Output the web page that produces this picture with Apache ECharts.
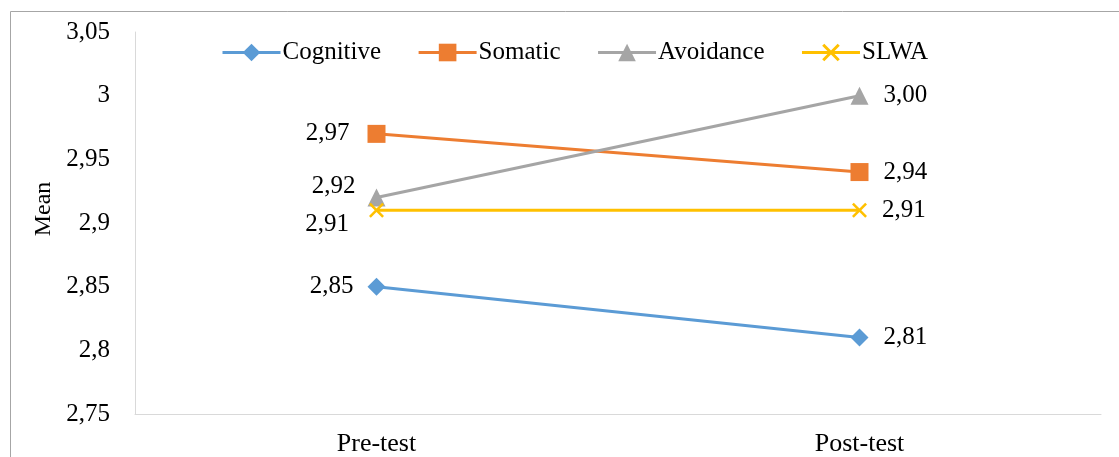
<!DOCTYPE html>
<html>
<head>
<meta charset="utf-8">
<script src="https://cdn.jsdelivr.net/npm/echarts@6/dist/echarts.min.js"></script>
<style>
  html, body { margin: 0; padding: 0; background: #fff; }
  #chart { width: 1119px; height: 457px; }
</style>
</head>
<body>
<div id="chart"></div>
<script>
const categories = ['Pre-test', 'Post-test'];
const cognitive = [2.85, 2.81];
const somatic = [2.97, 2.94];
const avoidance = [2.92, 3.00];
const slwa = [2.91, 2.91];

const FONT = '"Liberation Serif", "Times New Roman", serif';
const xMark = 'path://M0,1.2L1.2,0L5,3.8L8.8,0L10,1.2L6.2,5L10,8.8L8.8,10L5,6.2L1.2,10L0,8.8L3.8,5Z';

const comma = v => v.toFixed(2).replace('.', ',');

// label placement per point: pre-test left, post-test right
function withLabels(values, preOffset) {
  return values.map((v, i) => ({
    value: v,
    label: i === 0
      ? { position: 'left', distance: 14, offset: preOffset || [0, 0] }
      : { position: 'right', distance: 15 }
  }));
}

function line(name, color, values, symbol, size, preOffset) {
  return {
    name: name,
    type: 'line',
    data: withLabels(values, preOffset),
    symbol: symbol,
    symbolSize: size,
    lineStyle: { color: color, width: 3 },
    itemStyle: { color: color },
    label: {
      show: true,
      color: '#000',
      fontFamily: FONT,
      fontSize: 25,
      formatter: p => comma(p.value)
    },
    z: 3
  };
}

const chart = echarts.init(document.getElementById('chart'));
chart.setOption({
  animation: false,
  textStyle: { fontFamily: FONT },
  graphic: [{
    type: 'rect',
    shape: { x: 10.5, y: 11.5, width: 1200, height: 470 },
    style: { fill: 'none', stroke: '#a6a6a6', lineWidth: 1 },
    silent: true
  }],
  legend: {
    left: 216,
    top: 35,
    itemWidth: 58,
    itemHeight: 22,
    itemGap: 36,
    lineStyle: { width: 3 },
    textStyle: { fontFamily: FONT, fontSize: 25, color: '#000', padding: [0, 0, 0, -3] },
    data: ['Cognitive', 'Somatic', 'Avoidance', 'SLWA']
  },
  grid: { left: 135, right: 18, top: 32, bottom: 43 },
  xAxis: {
    type: 'category',
    data: categories,
    boundaryGap: true,
    axisLine: { lineStyle: { color: '#d9d9d9', width: 1 } },
    axisTick: { show: false },
    axisLabel: { color: '#000', fontFamily: FONT, fontSize: 26, margin: 17 }
  },
  yAxis: {
    type: 'value',
    min: 2.75,
    max: 3.05,
    interval: 0.05,
    name: 'Mean',
    nameLocation: 'middle',
    nameGap: 76,
    nameTextStyle: { color: '#000', fontFamily: FONT, fontSize: 24, padding: [0, 0, 0, 28] },
    axisLine: { show: true, lineStyle: { color: '#d9d9d9', width: 1 } },
    axisTick: { show: false },
    splitLine: { show: false },
    axisLabel: {
      color: '#000', fontFamily: FONT, fontSize: 25, margin: 25,
      formatter: v => String(Math.round(v * 100) / 100).replace('.', ',')
    }
  },
  series: [
    line('Cognitive', '#5B9BD5', cognitive, 'diamond', 18),
    line('Somatic', '#ED7D31', somatic, 'rect', 18, [-4, 0]),
    line('Avoidance', '#A5A5A5', avoidance, 'triangle', 18, [2, -11]),
    line('SLWA', '#FFC000', slwa, xMark, 15, [-6, 14])
  ]
});
</script>
</body>
</html>
